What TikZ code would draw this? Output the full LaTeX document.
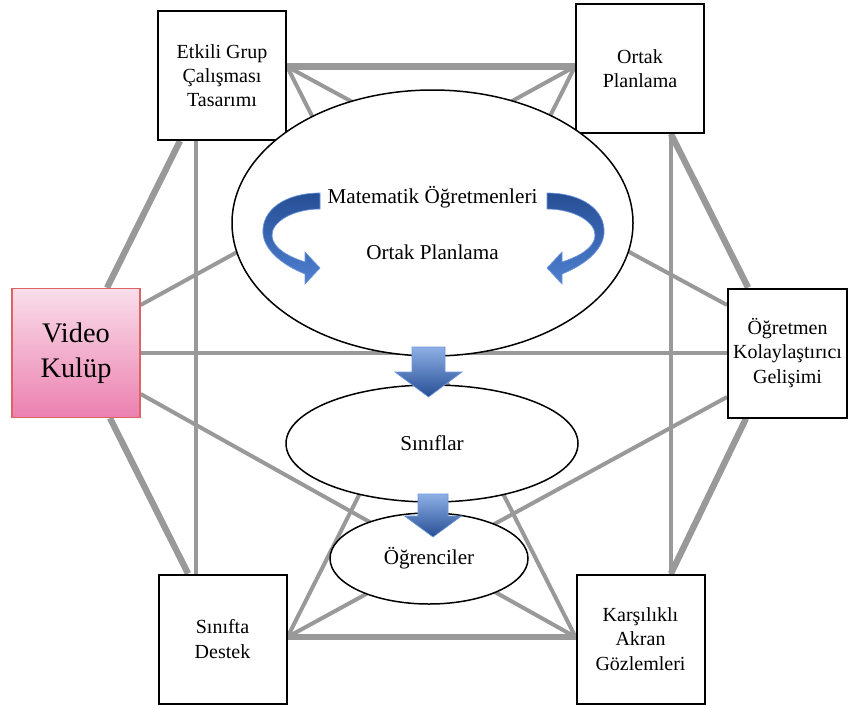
\documentclass[tikz,border=0pt]{standalone}
\usepackage{fontspec}
\setmainfont{Liberation Serif}
\usetikzlibrary{calc, positioning}
\usetikzlibrary{shapes.geometric}
\usetikzlibrary{backgrounds}

\definecolor{linegray}{RGB}{153,153,153}
\definecolor{pinktop}{RGB}{249,222,234}
\definecolor{pinkbot}{RGB}{236,128,176}
\definecolor{pinkline}{RGB}{222,100,100}
\definecolor{bluelight}{RGB}{142,176,230}
\definecolor{bluedark}{RGB}{38,78,148}
\definecolor{bluemid}{RGB}{78,128,208}
\definecolor{blueedge}{RGB}{110,150,220}

\tikzset{
  box/.style={draw, line width=1.2pt, fill=white, minimum width=76.8pt, minimum height=77.4pt,
    inner sep=0pt, align=center, font=\rmfamily\fontsize{12}{14.5}\selectfont},
  oval/.style={draw, ellipse, line width=0.9pt, fill=white, inner sep=0pt, align=center,
    font=\rmfamily\fontsize{12.7}{15}\selectfont},
  hexline/.style={draw=linegray, line width=3.8pt},
  crossline/.style={draw=linegray, line width=2.4pt},
  bluearrow/.style={draw=blueedge, line width=0.4pt},
}

\begin{document}
\begin{tikzpicture}[x=0.6pt, y=-0.6pt]
\useasboundingbox (0,0) rectangle (848,707);

% boxes
\node[box] (etkili) at (222,75.5) {Etkili Grup\\Çalışması\\Tasarımı};
\node[box] (ortak) at (640,68.5) {Ortak\\Planlama};
\node[box, draw=pinkline, line width=0.8pt, top color=pinktop, bottom color=pinkbot,
  font=\rmfamily\fontsize{17}{21}\selectfont] (video) at (76,353) {Video\\Kulüp};
\node[box, minimum width=71.4pt] (ogretmen) at (787.5,353) {Öğretmen\\Kolaylaştırıcı\\Gelişimi};
\node[box] (sinifta) at (222.5,639) {Sınıfta\\Destek};
\node[box] (karsilikli) at (640.5,639) {Karşılıklı\\Akran\\Gözlemleri};

% connection points
\coordinate (etkili-r) at ($(etkili.east)+(0,-9)$);
\coordinate (etkili-b1) at ($(etkili.south)+(-42,0)$);
\coordinate (etkili-b2) at ($(etkili.south)+(-26,0)$);
\coordinate (ortak-l) at ($(ortak.west)+(0,-2)$);
\coordinate (ortak-b) at ($(ortak.south)+(31,0)$);
\coordinate (video-t) at ($(video.north)+(31,0)$);
\coordinate (video-r1) at ($(video.east)+(0,-48)$);
\coordinate (video-r3) at ($(video.east)+(0,41)$);
\coordinate (video-b) at ($(video.south)+(34,0)$);
\coordinate (ogretmen-t) at ($(ogretmen.north)+(-39.5,0)$);
\coordinate (ogretmen-l1) at ($(ogretmen.west)+(0,-48)$);
\coordinate (ogretmen-l3) at ($(ogretmen.west)+(0,44)$);
\coordinate (ogretmen-b) at ($(ogretmen.south)+(-41.5,0)$);
\coordinate (sinifta-t1) at ($(sinifta.north)+(-34.5,0)$);
\coordinate (sinifta-t2) at ($(sinifta.north)+(-26.5,0)$);
\coordinate (sinifta-r) at ($(sinifta.east)+(0,-2)$);
\coordinate (karsilikli-l) at ($(karsilikli.west)+(0,-2)$);
\coordinate (karsilikli-t) at ($(karsilikli.north)+(30.5,0)$);

\begin{pgfonlayer}{background}
% outer ring
\draw[hexline] (etkili-r) -- (ortak-l);
\draw[hexline] (ortak-b) -- (ogretmen-t);
\draw[hexline] (ogretmen-b) -- (karsilikli-t);
\draw[hexline] (karsilikli-l) -- (sinifta-r);
\draw[hexline] (sinifta-t1) -- (video-b);
\draw[hexline] (video-t) -- (etkili-b1);
% inner lines
\draw[crossline] (etkili-b2) -- (sinifta-t2);
\draw[crossline] (ortak-b) -- (karsilikli-t);
\draw[crossline] (video.east) -- (ogretmen.west);
\draw[crossline] (etkili-r) -- (ogretmen-l1);
\draw[crossline] (etkili-r) -- (karsilikli-l);
\draw[crossline] (ortak-l) -- (video-r1);
\draw[crossline] (ortak-l) -- (sinifta-r);
\draw[crossline] (video-r3) -- (karsilikli-l);
\draw[crossline] (ogretmen-l3) -- (sinifta-r);
\end{pgfonlayer}

% ellipses
\node[oval, minimum width=240.6pt, minimum height=159.6pt] (matbig) at (432.5,223)
  {Matematik Öğretmenleri\\[19pt]Ortak Planlama};
\node[oval, minimum width=175.2pt, minimum height=70.2pt] (siniflar) at (432,443.5) {Sınıflar};
\node[oval, minimum width=118.8pt, minimum height=54.6pt] (ogrenciler) at (429,558.5) {Öğrenciler};

% down arrows
\foreach \cx/\ty/\sw/\hw/\sl/\hl in {428.5/347/16.5/33.5/25/25, 433/494/15/28.5/22/21}{
  \draw[bluearrow, top color=bluelight, bottom color=bluedark]
    (\cx-\sw,\ty) -- (\cx+\sw,\ty) -- (\cx+\sw,\ty+\sl) -- (\cx+\hw,\ty+\sl)
    -- (\cx,\ty+\sl+\hl) -- (\cx-\hw,\ty+\sl) -- (\cx-\sw,\ty+\sl) -- cycle;
}

% curved arrows
\foreach \sx/\dx in {1/0, -1/867}{
  \begin{scope}[shift={(\dx,0)}, xscale=\sx]
    \draw[bluearrow, top color=bluedark, bottom color=bluemid]
      (320,193) .. controls (285,193) and (261,210) .. (263,234)
      .. controls (265,252) and (285,266) .. (305,274)
      -- (305,284) -- (320,268) -- (305,252) -- (305,262)
      .. controls (290,257) and (273,249) .. (272,236)
      .. controls (271,222) and (293,209) .. (320,209) -- cycle;
  \end{scope}
}
\end{tikzpicture}
\end{document}
